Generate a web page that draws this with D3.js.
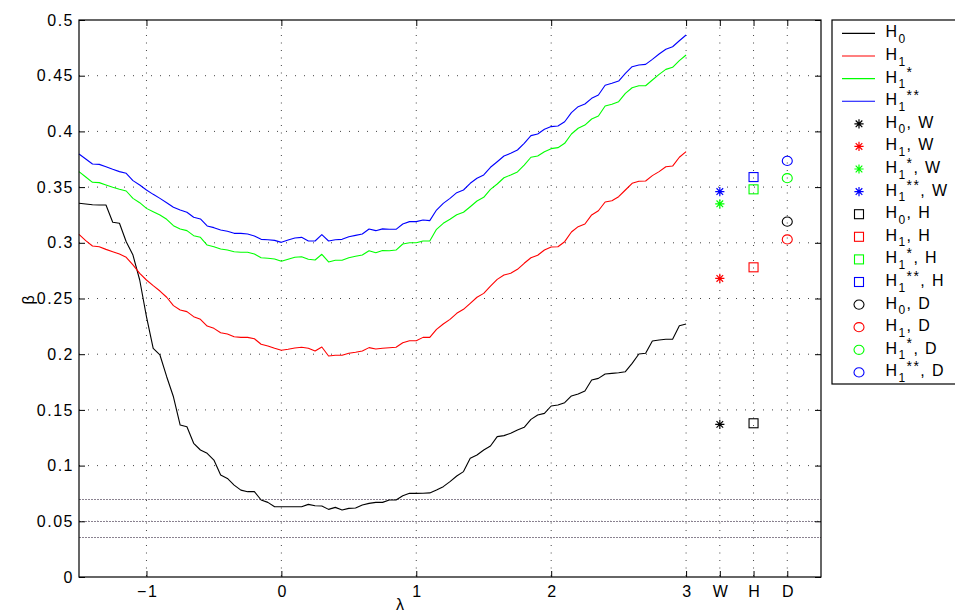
<!DOCTYPE html>
<html><head><meta charset="utf-8">
<script src="https://cdn.jsdelivr.net/npm/d3@7"></script>
<style>
html,body{margin:0;padding:0;background:#fff;}
text{font-family:"Liberation Sans",Arial,Helvetica,sans-serif;}
</style></head>
<body>
<svg id="chart" width="955" height="614"></svg>
<script>
// lambda grid (step 0.05 from -1.5 to 3)
const lambda = d3.range(0, 91).map(i => +(-1.5 + i * 0.05).toFixed(2));

const H0 = [
0.3355,0.3348,0.3342,0.3339,0.3339,0.3184,0.3175,0.3010,0.2890,0.2666,
0.2337,0.2053,0.1993,0.1798,0.1618,0.1364,0.1349,0.1200,0.1140,0.1110,
0.1050,0.0915,0.0885,0.0825,0.0780,0.0766,0.0766,0.0691,0.0670,0.0631,
0.0631,0.0631,0.0631,0.0631,0.0652,0.0640,0.0637,0.0607,0.0625,0.0601,
0.0616,0.0619,0.0646,0.0661,0.0670,0.0670,0.0691,0.0691,0.0730,0.0751,
0.0751,0.0752,0.0755,0.0781,0.0811,0.0856,0.0907,0.0946,0.1065,0.1095,
0.1140,0.1176,0.1260,0.1269,0.1290,0.1320,0.1344,0.1415,0.1454,0.1469,
0.1535,0.1544,0.1565,0.1625,0.1643,0.1670,0.1768,0.1783,0.1822,0.1828,
0.1834,0.1843,0.1918,0.2002,0.2008,0.2118,0.2127,0.2134,0.2134,0.2256,
0.2271];

const H1 = [
0.3076,0.3019,0.2971,0.2965,0.2941,0.2920,0.2899,0.2870,0.2801,0.2726,
0.2666,0.2615,0.2567,0.2511,0.2436,0.2397,0.2382,0.2337,0.2313,0.2253,
0.2232,0.2193,0.2181,0.2157,0.2151,0.2151,0.2139,0.2089,0.2074,0.2053,
0.2035,0.2044,0.2056,0.2062,0.2053,0.2029,0.2065,0.1984,0.1990,0.1990,
0.2008,0.2017,0.2029,0.2059,0.2047,0.2053,0.2058,0.2062,0.2103,0.2121,
0.2121,0.2151,0.2151,0.2223,0.2271,0.2313,0.2367,0.2403,0.2457,0.2511,
0.2546,0.2612,0.2672,0.2711,0.2726,0.2762,0.2816,0.2866,0.2888,0.2935,
0.2962,0.2965,0.3010,0.3097,0.3145,0.3169,0.3250,0.3288,0.3366,0.3378,
0.3414,0.3474,0.3534,0.3552,0.3555,0.3603,0.3639,0.3683,0.3689,0.3768,
0.3818];

const H1s = [
0.3639,0.3591,0.3543,0.3540,0.3519,0.3498,0.3480,0.3465,0.3399,0.3360,
0.3309,0.3279,0.3250,0.3211,0.3154,0.3124,0.3109,0.3064,0.3049,0.2980,
0.2965,0.2944,0.2935,0.2920,0.2915,0.2915,0.2899,0.2866,0.2861,0.2855,
0.2834,0.2852,0.2870,0.2875,0.2852,0.2846,0.2897,0.2828,0.2843,0.2843,
0.2866,0.2879,0.2890,0.2929,0.2911,0.2930,0.2929,0.2935,0.2989,0.3001,
0.3001,0.3016,0.3016,0.3121,0.3175,0.3211,0.3252,0.3274,0.3324,0.3375,
0.3408,0.3480,0.3528,0.3584,0.3609,0.3636,0.3698,0.3768,0.3779,0.3818,
0.3845,0.3854,0.3893,0.3977,0.4028,0.4057,0.4111,0.4138,0.4228,0.4243,
0.4267,0.4342,0.4392,0.4410,0.4410,0.4461,0.4512,0.4557,0.4575,0.4635,
0.4686];

const H1ss = [
0.3797,0.3752,0.3707,0.3704,0.3683,0.3660,0.3639,0.3624,0.3558,0.3519,
0.3474,0.3435,0.3399,0.3360,0.3319,0.3294,0.3274,0.3229,0.3214,0.3151,
0.3136,0.3115,0.3103,0.3085,0.3085,0.3079,0.3061,0.3031,0.3028,0.3022,
0.3004,0.3025,0.3043,0.3049,0.3016,0.3016,0.3073,0.3016,0.3028,0.3031,
0.3055,0.3067,0.3079,0.3124,0.3109,0.3125,0.3121,0.3121,0.3169,0.3190,
0.3190,0.3205,0.3199,0.3294,0.3354,0.3399,0.3450,0.3474,0.3534,0.3579,
0.3609,0.3678,0.3728,0.3779,0.3803,0.3833,0.3893,0.3962,0.3977,0.4019,
0.4043,0.4048,0.4087,0.4168,0.4222,0.4246,0.4297,0.4327,0.4414,0.4432,
0.4452,0.4521,0.4581,0.4596,0.4602,0.4647,0.4695,0.4737,0.4760,0.4814,
0.4865];

// point estimates (order: H0, H1, H1*, H1**)
const methodPos = {W: 3.25, H: 3.5, D: 3.75};
const valW = [0.137, 0.268, 0.335, 0.346];
const valH = [0.138, 0.278, 0.348, 0.359];
const valD = [0.319, 0.303, 0.358, 0.3735];

const refLevels = [0.07, 0.05, 0.036];

const xTickVals = [-1, 0, 1, 2, 3, 3.25, 3.5, 3.75];
const xTickLabels = ["\u22121", "0", "1", "2", "3", "W", "H", "D"];
const yTickVals = [0, 0.05, 0.1, 0.15, 0.2, 0.25, 0.3, 0.35, 0.4, 0.45, 0.5];
const yTickLabels = ["0","0.05","0.1","0.15","0.2","0.25","0.3","0.35","0.4","0.45","0.5"];

const seriesColors = ["#000000", "#ff0000", "#00ff00", "#0000ff"];
const seriesSub = ["0", "1", "1", "1"];
const seriesSup = ["", "", "*", "**"];

// ---------- drawing ----------
const svg = d3.select("#chart");
const L = 79, R = 821, T = 20, B = 577;
const x = d3.scaleLinear().domain([-1.5, 4]).range([L, R]);
const y = d3.scaleLinear().domain([0, 0.5]).range([B, T]);

svg.append("rect").attr("width", 955).attr("height", 614).attr("fill", "#fff");

// grid
const grid = svg.append("g");
yTickVals.slice(1, -1).forEach(v => {
  grid.append("line").attr("x1", L).attr("x2", R).attr("y1", y(v)).attr("y2", y(v))
    .attr("stroke", "#444").attr("stroke-width", 1).attr("stroke-dasharray", "1,8");
});
xTickVals.forEach(v => {
  grid.append("line").attr("x1", x(v)).attr("x2", x(v)).attr("y1", T).attr("y2", B)
    .attr("stroke", "#444").attr("stroke-width", 1).attr("stroke-dasharray", "1,6.5");
});

// reference levels
refLevels.forEach(v => {
  svg.append("line").attr("x1", L).attr("x2", R).attr("y1", Math.round(y(v)) + 0.5).attr("y2", Math.round(y(v)) + 0.5)
    .attr("stroke", "#8a8290").attr("stroke-width", 1).attr("stroke-dasharray", "2,1");
});

// curves
const line = d3.line().x((d, i) => x(lambda[i])).y(d => y(d));
[H0, H1, H1s, H1ss].forEach((s, k) => {
  svg.append("path").datum(s).attr("d", line).attr("fill", "none")
    .attr("stroke", seriesColors[k]).attr("stroke-width", 1.1).attr("stroke-linejoin", "round");
});

// markers
function star(g, cx, cy, c) {
  const r = 4.6, d = r * 0.72;
  g.append("path").attr("d",
    `M${cx - r},${cy}H${cx + r}M${cx},${cy - r}V${cy + r}M${cx - d},${cy - d}L${cx + d},${cy + d}M${cx - d},${cy + d}L${cx + d},${cy - d}`)
    .attr("stroke", c).attr("stroke-width", 1.2).attr("fill", "none");
}
function square(g, cx, cy, c) {
  g.append("rect").attr("x", cx - 4.5).attr("y", cy - 4.5).attr("width", 9).attr("height", 9)
    .attr("fill", "none").attr("stroke", c).attr("stroke-width", 1.1);
}
function circle(g, cx, cy, c) {
  g.append("ellipse").attr("cx", cx).attr("cy", cy).attr("rx", 5).attr("ry", 4.6)
    .attr("fill", "none").attr("stroke", c).attr("stroke-width", 1.1);
}
const mk = svg.append("g");
valW.forEach((v, k) => star(mk, x(methodPos.W), y(v), seriesColors[k]));
valH.forEach((v, k) => square(mk, x(methodPos.H), y(v), seriesColors[k]));
valD.forEach((v, k) => circle(mk, x(methodPos.D), y(v), seriesColors[k]));

// frame
svg.append("rect").attr("x", L).attr("y", T).attr("width", R - L).attr("height", B - T)
  .attr("fill", "none").attr("stroke", "#000").attr("stroke-width", 1.2);

// axes via d3
const tl = 6;
const styleText = g => g.selectAll("text").attr("font-size", 16).attr("fill", "#000")
  .attr("font-family", "Liberation Sans, Arial, sans-serif").attr("letter-spacing", 1.5);
svg.append("g").attr("transform", `translate(0,${B})`)
  .call(d3.axisBottom(x).tickValues(xTickVals).tickFormat((d, i) => xTickLabels[i]).tickSizeInner(-tl).tickSizeOuter(0).tickPadding(9))
  .call(g => { g.select(".domain").remove(); styleText(g); g.selectAll("text").attr("dx", 0.75); g.selectAll("line").attr("stroke", "#000"); });
svg.append("g").attr("transform", `translate(0,${T})`)
  .call(d3.axisTop(x).tickValues(xTickVals).tickFormat("").tickSizeInner(-tl).tickSizeOuter(0))
  .call(g => { g.select(".domain").remove(); g.selectAll("line").attr("stroke", "#000"); });
svg.append("g").attr("transform", `translate(${L},0)`)
  .call(d3.axisLeft(y).tickValues(yTickVals).tickFormat((d, i) => yTickLabels[i]).tickSizeInner(-tl).tickSizeOuter(0).tickPadding(5))
  .call(g => { g.select(".domain").remove(); styleText(g); g.selectAll("line").attr("stroke", "#000"); });
svg.append("g").attr("transform", `translate(${R},0)`)
  .call(d3.axisRight(y).tickValues(yTickVals).tickFormat("").tickSizeInner(-tl).tickSizeOuter(0))
  .call(g => { g.select(".domain").remove(); g.selectAll("line").attr("stroke", "#000"); });

// axis labels
svg.append("text").attr("x", 400).attr("y", 610).attr("text-anchor", "middle").attr("font-size", 16).text("λ");
svg.append("text").attr("transform", "translate(34,300) rotate(-90)").attr("text-anchor", "middle").attr("font-size", 16).text("β");

// legend
const lg = svg.append("g");
lg.append("rect").attr("x", 832).attr("y", 20).attr("width", 140).attr("height", 364)
  .attr("fill", "#fff").attr("stroke", "#000").attr("stroke-width", 1.2);
const entries = [];
["", ", W", ", H", ", D"].forEach((suffix, gi) => {
  for (let k = 0; k < 4; k++) entries.push({k, suffix, type: gi});
});
entries.forEach((e, i) => {
  const cy = 33.4 + i * 22.6;
  const c = seriesColors[e.k];
  if (e.type === 0) lg.append("line").attr("x1", 842).attr("x2", 875).attr("y1", cy).attr("y2", cy).attr("stroke", c).attr("stroke-width", 1.1);
  else if (e.type === 1) star(lg, 859, cy, c);
  else if (e.type === 2) square(lg, 859, cy, c);
  else circle(lg, 859, cy, c);
  const t = lg.append("text").attr("x", 885.5).attr("y", cy + 4).attr("font-size", 16).attr("letter-spacing", 1.4);
  t.append("tspan").text("H");
  t.append("tspan").attr("dy", 5.5).attr("font-size", 12).text(seriesSub[e.k]);
  let shift = 5.5;
  if (seriesSup[e.k]) {
    t.append("tspan").attr("dy", -11).attr("font-size", 14).text(seriesSup[e.k]);
    shift = -5.5;
  }
  if (e.suffix) t.append("tspan").attr("dy", -shift).attr("font-size", 16).text(e.suffix);
});
</script>
</body></html>
